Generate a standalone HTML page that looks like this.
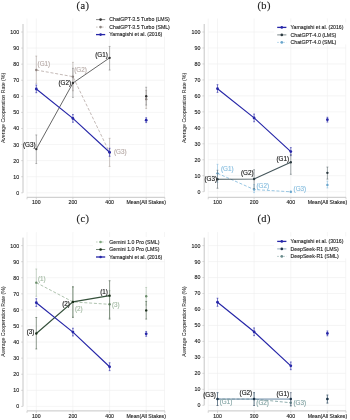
<!DOCTYPE html>
<html><head><meta charset="utf-8"><style>
html,body{margin:0;padding:0;background:#fff;width:350px;height:420px;overflow:hidden}
svg{display:block;font-family:"Liberation Sans", sans-serif;will-change:transform}
</style></head><body>
<svg width="350" height="420" viewBox="0 0 350 420">
<rect width="350" height="420" fill="#fff"/>
<line x1="27" y1="192.80" x2="164.5" y2="192.80" stroke="#eeeeee" stroke-width="0.6"/>
<line x1="27" y1="176.72" x2="164.5" y2="176.72" stroke="#eeeeee" stroke-width="0.6"/>
<line x1="27" y1="160.64" x2="164.5" y2="160.64" stroke="#eeeeee" stroke-width="0.6"/>
<line x1="27" y1="144.56" x2="164.5" y2="144.56" stroke="#eeeeee" stroke-width="0.6"/>
<line x1="27" y1="128.48" x2="164.5" y2="128.48" stroke="#eeeeee" stroke-width="0.6"/>
<line x1="27" y1="112.40" x2="164.5" y2="112.40" stroke="#eeeeee" stroke-width="0.6"/>
<line x1="27" y1="96.32" x2="164.5" y2="96.32" stroke="#eeeeee" stroke-width="0.6"/>
<line x1="27" y1="80.24" x2="164.5" y2="80.24" stroke="#eeeeee" stroke-width="0.6"/>
<line x1="27" y1="64.16" x2="164.5" y2="64.16" stroke="#eeeeee" stroke-width="0.6"/>
<line x1="27" y1="48.08" x2="164.5" y2="48.08" stroke="#eeeeee" stroke-width="0.6"/>
<line x1="27" y1="32.00" x2="164.5" y2="32.00" stroke="#eeeeee" stroke-width="0.6"/>
<line x1="27.00" y1="18.50" x2="27.00" y2="197.30" stroke="#eeeeee" stroke-width="0.6"/>
<line x1="36.30" y1="18.50" x2="36.30" y2="197.30" stroke="#eeeeee" stroke-width="0.6"/>
<line x1="72.90" y1="18.50" x2="72.90" y2="197.30" stroke="#eeeeee" stroke-width="0.6"/>
<line x1="109.60" y1="18.50" x2="109.60" y2="197.30" stroke="#eeeeee" stroke-width="0.6"/>
<line x1="146.20" y1="18.50" x2="146.20" y2="197.30" stroke="#eeeeee" stroke-width="0.6"/>
<line x1="164.50" y1="18.50" x2="164.50" y2="197.30" stroke="#eeeeee" stroke-width="0.6"/>
<line x1="23" y1="24" x2="23" y2="192.80" stroke="#c6c6c6" stroke-width="1.0"/>
<line x1="27" y1="197.3" x2="164.8" y2="197.3" stroke="#c6c6c6" stroke-width="1.0"/>
<line x1="21.2" y1="192.80" x2="23" y2="192.80" stroke="#c6c6c6" stroke-width="0.7"/>
<text x="19.2" y="194.75" text-anchor="end" font-size="5.3" fill="#222" stroke="#222" stroke-width="0.12">0</text>
<line x1="21.2" y1="176.72" x2="23" y2="176.72" stroke="#c6c6c6" stroke-width="0.7"/>
<text x="19.2" y="178.67" text-anchor="end" font-size="5.3" fill="#222" stroke="#222" stroke-width="0.12">10</text>
<line x1="21.2" y1="160.64" x2="23" y2="160.64" stroke="#c6c6c6" stroke-width="0.7"/>
<text x="19.2" y="162.59" text-anchor="end" font-size="5.3" fill="#222" stroke="#222" stroke-width="0.12">20</text>
<line x1="21.2" y1="144.56" x2="23" y2="144.56" stroke="#c6c6c6" stroke-width="0.7"/>
<text x="19.2" y="146.51" text-anchor="end" font-size="5.3" fill="#222" stroke="#222" stroke-width="0.12">30</text>
<line x1="21.2" y1="128.48" x2="23" y2="128.48" stroke="#c6c6c6" stroke-width="0.7"/>
<text x="19.2" y="130.43" text-anchor="end" font-size="5.3" fill="#222" stroke="#222" stroke-width="0.12">40</text>
<line x1="21.2" y1="112.40" x2="23" y2="112.40" stroke="#c6c6c6" stroke-width="0.7"/>
<text x="19.2" y="114.35" text-anchor="end" font-size="5.3" fill="#222" stroke="#222" stroke-width="0.12">50</text>
<line x1="21.2" y1="96.32" x2="23" y2="96.32" stroke="#c6c6c6" stroke-width="0.7"/>
<text x="19.2" y="98.27" text-anchor="end" font-size="5.3" fill="#222" stroke="#222" stroke-width="0.12">60</text>
<line x1="21.2" y1="80.24" x2="23" y2="80.24" stroke="#c6c6c6" stroke-width="0.7"/>
<text x="19.2" y="82.19" text-anchor="end" font-size="5.3" fill="#222" stroke="#222" stroke-width="0.12">70</text>
<line x1="21.2" y1="64.16" x2="23" y2="64.16" stroke="#c6c6c6" stroke-width="0.7"/>
<text x="19.2" y="66.11" text-anchor="end" font-size="5.3" fill="#222" stroke="#222" stroke-width="0.12">80</text>
<line x1="21.2" y1="48.08" x2="23" y2="48.08" stroke="#c6c6c6" stroke-width="0.7"/>
<text x="19.2" y="50.03" text-anchor="end" font-size="5.3" fill="#222" stroke="#222" stroke-width="0.12">90</text>
<line x1="21.2" y1="32.00" x2="23" y2="32.00" stroke="#c6c6c6" stroke-width="0.7"/>
<text x="19.2" y="33.95" text-anchor="end" font-size="5.3" fill="#222" stroke="#222" stroke-width="0.12">100</text>
<line x1="27.00" y1="197.3" x2="27.00" y2="199.3" stroke="#c6c6c6" stroke-width="0.7"/>
<line x1="36.30" y1="197.3" x2="36.30" y2="199.3" stroke="#c6c6c6" stroke-width="0.7"/>
<line x1="72.90" y1="197.3" x2="72.90" y2="199.3" stroke="#c6c6c6" stroke-width="0.7"/>
<line x1="109.60" y1="197.3" x2="109.60" y2="199.3" stroke="#c6c6c6" stroke-width="0.7"/>
<line x1="146.20" y1="197.3" x2="146.20" y2="199.3" stroke="#c6c6c6" stroke-width="0.7"/>
<line x1="164.80" y1="197.3" x2="164.80" y2="199.3" stroke="#c6c6c6" stroke-width="0.7"/>
<text x="36.30" y="204.1" text-anchor="middle" font-size="5.2" fill="#222" stroke="#222" stroke-width="0.12">100</text>
<text x="72.90" y="204.1" text-anchor="middle" font-size="5.2" fill="#222" stroke="#222" stroke-width="0.12">200</text>
<text x="109.60" y="204.1" text-anchor="middle" font-size="5.2" fill="#222" stroke="#222" stroke-width="0.12">400</text>
<text x="146.20" y="204.1" text-anchor="middle" font-size="5.2" fill="#222" stroke="#222" stroke-width="0.12">Mean(All Stakes)</text>
<text transform="translate(4.6,108.0) rotate(-90)" text-anchor="middle" font-size="5.15" fill="#262626" stroke="#262626" stroke-width="0.05">Average Cooperation Rate (%)</text>
<text x="83" y="8.75" text-anchor="middle" font-family='"Liberation Serif", serif' font-size="10.4" letter-spacing="0.5" fill="#222" stroke="#222" stroke-width="0.15">(a)</text>
<line x1="36.30" y1="83.39" x2="36.30" y2="56.09" stroke="#aca29e" stroke-width="0.6"/>
<line x1="35.40" y1="83.39" x2="37.20" y2="83.39" stroke="#aca29e" stroke-width="0.6"/>
<line x1="35.40" y1="56.09" x2="37.20" y2="56.09" stroke="#aca29e" stroke-width="0.6"/>
<line x1="72.90" y1="90.78" x2="72.90" y2="62.35" stroke="#aca29e" stroke-width="0.6"/>
<line x1="72.00" y1="90.78" x2="73.80" y2="90.78" stroke="#aca29e" stroke-width="0.6"/>
<line x1="72.00" y1="62.35" x2="73.80" y2="62.35" stroke="#aca29e" stroke-width="0.6"/>
<line x1="109.60" y1="166.42" x2="109.60" y2="138.32" stroke="#aca29e" stroke-width="0.6"/>
<line x1="108.70" y1="166.42" x2="110.50" y2="166.42" stroke="#aca29e" stroke-width="0.6"/>
<line x1="108.70" y1="138.32" x2="110.50" y2="138.32" stroke="#aca29e" stroke-width="0.6"/>
<line x1="146.20" y1="108.45" x2="146.20" y2="90.46" stroke="#aca29e" stroke-width="0.6"/>
<line x1="145.30" y1="108.45" x2="147.10" y2="108.45" stroke="#aca29e" stroke-width="0.6"/>
<line x1="145.30" y1="90.46" x2="147.10" y2="90.46" stroke="#aca29e" stroke-width="0.6"/>
<polyline points="36.30,70.06 72.90,76.65 109.60,152.61" fill="none" stroke="#b9adaa" stroke-width="0.85" stroke-dasharray="3,1.8"/>
<circle cx="36.30" cy="70.06" r="1.2" fill="#8c807c"/>
<circle cx="72.90" cy="76.65" r="1.2" fill="#8c807c"/>
<circle cx="109.60" cy="152.61" r="1.2" fill="#8c807c"/>
<circle cx="146.20" cy="99.13" r="1.2" fill="#8c807c"/>
<line x1="36.30" y1="163.53" x2="36.30" y2="134.94" stroke="#858585" stroke-width="0.6"/>
<line x1="35.40" y1="163.53" x2="37.20" y2="163.53" stroke="#858585" stroke-width="0.6"/>
<line x1="35.40" y1="134.94" x2="37.20" y2="134.94" stroke="#858585" stroke-width="0.6"/>
<line x1="72.90" y1="97.36" x2="72.90" y2="68.30" stroke="#858585" stroke-width="0.6"/>
<line x1="72.00" y1="97.36" x2="73.80" y2="97.36" stroke="#858585" stroke-width="0.6"/>
<line x1="72.00" y1="68.30" x2="73.80" y2="68.30" stroke="#858585" stroke-width="0.6"/>
<line x1="109.60" y1="70.06" x2="109.60" y2="46.45" stroke="#858585" stroke-width="0.6"/>
<line x1="108.70" y1="70.06" x2="110.50" y2="70.06" stroke="#858585" stroke-width="0.6"/>
<line x1="108.70" y1="46.45" x2="110.50" y2="46.45" stroke="#858585" stroke-width="0.6"/>
<line x1="146.20" y1="105.07" x2="146.20" y2="87.25" stroke="#858585" stroke-width="0.6"/>
<line x1="145.30" y1="105.07" x2="147.10" y2="105.07" stroke="#858585" stroke-width="0.6"/>
<line x1="145.30" y1="87.25" x2="147.10" y2="87.25" stroke="#858585" stroke-width="0.6"/>
<polyline points="36.30,149.08 72.90,83.07 109.60,57.86" fill="none" stroke="#555555" stroke-width="0.9"/>
<circle cx="36.30" cy="149.08" r="1.2" fill="#333"/>
<circle cx="72.90" cy="83.07" r="1.2" fill="#333"/>
<circle cx="109.60" cy="57.86" r="1.2" fill="#333"/>
<circle cx="146.20" cy="96.24" r="1.2" fill="#333"/>
<line x1="36.30" y1="92.71" x2="36.30" y2="85.00" stroke="#2626a8" stroke-width="0.6"/>
<line x1="35.40" y1="92.71" x2="37.20" y2="92.71" stroke="#2626a8" stroke-width="0.6"/>
<line x1="35.40" y1="85.00" x2="37.20" y2="85.00" stroke="#2626a8" stroke-width="0.6"/>
<line x1="72.90" y1="122.26" x2="72.90" y2="114.55" stroke="#2626a8" stroke-width="0.6"/>
<line x1="72.00" y1="122.26" x2="73.80" y2="122.26" stroke="#2626a8" stroke-width="0.6"/>
<line x1="72.00" y1="114.55" x2="73.80" y2="114.55" stroke="#2626a8" stroke-width="0.6"/>
<line x1="109.60" y1="156.30" x2="109.60" y2="148.27" stroke="#2626a8" stroke-width="0.6"/>
<line x1="108.70" y1="156.30" x2="110.50" y2="156.30" stroke="#2626a8" stroke-width="0.6"/>
<line x1="108.70" y1="148.27" x2="110.50" y2="148.27" stroke="#2626a8" stroke-width="0.6"/>
<line x1="146.20" y1="122.58" x2="146.20" y2="117.76" stroke="#2626a8" stroke-width="0.6"/>
<line x1="145.30" y1="122.58" x2="147.10" y2="122.58" stroke="#2626a8" stroke-width="0.6"/>
<line x1="145.30" y1="117.76" x2="147.10" y2="117.76" stroke="#2626a8" stroke-width="0.6"/>
<polyline points="36.30,89.01 72.90,118.40 109.60,152.29" fill="none" stroke="#2626a8" stroke-width="1.15"/>
<circle cx="36.30" cy="89.01" r="1.4" fill="#2626a8"/>
<circle cx="72.90" cy="118.40" r="1.4" fill="#2626a8"/>
<circle cx="109.60" cy="152.29" r="1.4" fill="#2626a8"/>
<circle cx="146.20" cy="120.17" r="1.4" fill="#2626a8"/>
<text x="37.60" y="66.25" text-anchor="start" font-size="6.3" fill="#b9adaa" stroke="#b9adaa" stroke-width="0.15">(G1)</text>
<text x="71.10" y="84.65" text-anchor="end" font-size="6.3" fill="#222" stroke="#222" stroke-width="0.15">(G2)</text>
<text x="74.20" y="72.25" text-anchor="start" font-size="6.3" fill="#b9adaa" stroke="#b9adaa" stroke-width="0.15">(G2)</text>
<text x="107.80" y="57.25" text-anchor="end" font-size="6.3" fill="#222" stroke="#222" stroke-width="0.15">(G1)</text>
<text x="114.00" y="153.55" text-anchor="start" font-size="6.3" fill="#b9adaa" stroke="#b9adaa" stroke-width="0.15">(G3)</text>
<text x="35.50" y="146.75" text-anchor="end" font-size="6.3" fill="#222" stroke="#222" stroke-width="0.15">(G3)</text>
<rect x="93.00" y="14.60" width="78" height="22" fill="#fff"/>
<line x1="96.00" y1="19.60" x2="105.20" y2="19.60" stroke="#555555" stroke-width="0.7"/>
<circle cx="100.60" cy="19.60" r="1.3" fill="#333"/>
<text x="109.30" y="21.35" font-size="5.2" fill="#222" stroke="#222" stroke-width="0.12">ChatGPT-3.5 Turbo (LMS)</text>
<line x1="96.00" y1="27.10" x2="105.20" y2="27.10" stroke="#b0a6a2" stroke-width="0.7" stroke-dasharray="1.6,1.4"/>
<circle cx="100.60" cy="27.10" r="1.3" fill="#8c8480"/>
<text x="109.30" y="28.85" font-size="5.2" fill="#222" stroke="#222" stroke-width="0.12">ChatGPT-3.5 Turbo (SML)</text>
<line x1="96.00" y1="34.60" x2="105.20" y2="34.60" stroke="#2626a8" stroke-width="1.3"/>
<circle cx="100.60" cy="34.60" r="1.3" fill="#2626a8"/>
<text x="109.30" y="36.35" font-size="5.2" fill="#222" stroke="#222" stroke-width="0.12">Yamagishi et al. (2016)</text>
<line x1="208.2" y1="191.70" x2="345.7" y2="191.70" stroke="#eeeeee" stroke-width="0.6"/>
<line x1="208.2" y1="175.73" x2="345.7" y2="175.73" stroke="#eeeeee" stroke-width="0.6"/>
<line x1="208.2" y1="159.76" x2="345.7" y2="159.76" stroke="#eeeeee" stroke-width="0.6"/>
<line x1="208.2" y1="143.79" x2="345.7" y2="143.79" stroke="#eeeeee" stroke-width="0.6"/>
<line x1="208.2" y1="127.82" x2="345.7" y2="127.82" stroke="#eeeeee" stroke-width="0.6"/>
<line x1="208.2" y1="111.85" x2="345.7" y2="111.85" stroke="#eeeeee" stroke-width="0.6"/>
<line x1="208.2" y1="95.88" x2="345.7" y2="95.88" stroke="#eeeeee" stroke-width="0.6"/>
<line x1="208.2" y1="79.91" x2="345.7" y2="79.91" stroke="#eeeeee" stroke-width="0.6"/>
<line x1="208.2" y1="63.94" x2="345.7" y2="63.94" stroke="#eeeeee" stroke-width="0.6"/>
<line x1="208.2" y1="47.97" x2="345.7" y2="47.97" stroke="#eeeeee" stroke-width="0.6"/>
<line x1="208.2" y1="32.00" x2="345.7" y2="32.00" stroke="#eeeeee" stroke-width="0.6"/>
<line x1="208.20" y1="18.50" x2="208.20" y2="197.30" stroke="#eeeeee" stroke-width="0.6"/>
<line x1="217.50" y1="18.50" x2="217.50" y2="197.30" stroke="#eeeeee" stroke-width="0.6"/>
<line x1="254.10" y1="18.50" x2="254.10" y2="197.30" stroke="#eeeeee" stroke-width="0.6"/>
<line x1="290.80" y1="18.50" x2="290.80" y2="197.30" stroke="#eeeeee" stroke-width="0.6"/>
<line x1="327.40" y1="18.50" x2="327.40" y2="197.30" stroke="#eeeeee" stroke-width="0.6"/>
<line x1="345.70" y1="18.50" x2="345.70" y2="197.30" stroke="#eeeeee" stroke-width="0.6"/>
<line x1="204.2" y1="24" x2="204.2" y2="191.70" stroke="#c6c6c6" stroke-width="1.0"/>
<line x1="208.2" y1="197.3" x2="346.0" y2="197.3" stroke="#c6c6c6" stroke-width="1.0"/>
<line x1="202.39999999999998" y1="191.70" x2="204.2" y2="191.70" stroke="#c6c6c6" stroke-width="0.7"/>
<text x="200.39999999999998" y="193.65" text-anchor="end" font-size="5.3" fill="#222" stroke="#222" stroke-width="0.12">0</text>
<line x1="202.39999999999998" y1="175.73" x2="204.2" y2="175.73" stroke="#c6c6c6" stroke-width="0.7"/>
<text x="200.39999999999998" y="177.68" text-anchor="end" font-size="5.3" fill="#222" stroke="#222" stroke-width="0.12">10</text>
<line x1="202.39999999999998" y1="159.76" x2="204.2" y2="159.76" stroke="#c6c6c6" stroke-width="0.7"/>
<text x="200.39999999999998" y="161.71" text-anchor="end" font-size="5.3" fill="#222" stroke="#222" stroke-width="0.12">20</text>
<line x1="202.39999999999998" y1="143.79" x2="204.2" y2="143.79" stroke="#c6c6c6" stroke-width="0.7"/>
<text x="200.39999999999998" y="145.74" text-anchor="end" font-size="5.3" fill="#222" stroke="#222" stroke-width="0.12">30</text>
<line x1="202.39999999999998" y1="127.82" x2="204.2" y2="127.82" stroke="#c6c6c6" stroke-width="0.7"/>
<text x="200.39999999999998" y="129.77" text-anchor="end" font-size="5.3" fill="#222" stroke="#222" stroke-width="0.12">40</text>
<line x1="202.39999999999998" y1="111.85" x2="204.2" y2="111.85" stroke="#c6c6c6" stroke-width="0.7"/>
<text x="200.39999999999998" y="113.80" text-anchor="end" font-size="5.3" fill="#222" stroke="#222" stroke-width="0.12">50</text>
<line x1="202.39999999999998" y1="95.88" x2="204.2" y2="95.88" stroke="#c6c6c6" stroke-width="0.7"/>
<text x="200.39999999999998" y="97.83" text-anchor="end" font-size="5.3" fill="#222" stroke="#222" stroke-width="0.12">60</text>
<line x1="202.39999999999998" y1="79.91" x2="204.2" y2="79.91" stroke="#c6c6c6" stroke-width="0.7"/>
<text x="200.39999999999998" y="81.86" text-anchor="end" font-size="5.3" fill="#222" stroke="#222" stroke-width="0.12">70</text>
<line x1="202.39999999999998" y1="63.94" x2="204.2" y2="63.94" stroke="#c6c6c6" stroke-width="0.7"/>
<text x="200.39999999999998" y="65.89" text-anchor="end" font-size="5.3" fill="#222" stroke="#222" stroke-width="0.12">80</text>
<line x1="202.39999999999998" y1="47.97" x2="204.2" y2="47.97" stroke="#c6c6c6" stroke-width="0.7"/>
<text x="200.39999999999998" y="49.92" text-anchor="end" font-size="5.3" fill="#222" stroke="#222" stroke-width="0.12">90</text>
<line x1="202.39999999999998" y1="32.00" x2="204.2" y2="32.00" stroke="#c6c6c6" stroke-width="0.7"/>
<text x="200.39999999999998" y="33.95" text-anchor="end" font-size="5.3" fill="#222" stroke="#222" stroke-width="0.12">100</text>
<line x1="208.20" y1="197.3" x2="208.20" y2="199.3" stroke="#c6c6c6" stroke-width="0.7"/>
<line x1="217.50" y1="197.3" x2="217.50" y2="199.3" stroke="#c6c6c6" stroke-width="0.7"/>
<line x1="254.10" y1="197.3" x2="254.10" y2="199.3" stroke="#c6c6c6" stroke-width="0.7"/>
<line x1="290.80" y1="197.3" x2="290.80" y2="199.3" stroke="#c6c6c6" stroke-width="0.7"/>
<line x1="327.40" y1="197.3" x2="327.40" y2="199.3" stroke="#c6c6c6" stroke-width="0.7"/>
<line x1="346.00" y1="197.3" x2="346.00" y2="199.3" stroke="#c6c6c6" stroke-width="0.7"/>
<text x="217.50" y="204.1" text-anchor="middle" font-size="5.2" fill="#222" stroke="#222" stroke-width="0.12">100</text>
<text x="254.10" y="204.1" text-anchor="middle" font-size="5.2" fill="#222" stroke="#222" stroke-width="0.12">200</text>
<text x="290.80" y="204.1" text-anchor="middle" font-size="5.2" fill="#222" stroke="#222" stroke-width="0.12">400</text>
<text x="327.40" y="204.1" text-anchor="middle" font-size="5.2" fill="#222" stroke="#222" stroke-width="0.12">Mean(All Stakes)</text>
<text transform="translate(185.79999999999998,108.0) rotate(-90)" text-anchor="middle" font-size="5.15" fill="#262626" stroke="#262626" stroke-width="0.05">Average Cooperation Rate (%)</text>
<text x="264.2" y="8.75" text-anchor="middle" font-family='"Liberation Serif", serif' font-size="10.4" letter-spacing="0.5" fill="#222" stroke="#222" stroke-width="0.15">(b)</text>
<line x1="217.50" y1="92.37" x2="217.50" y2="84.70" stroke="#2626a8" stroke-width="0.6"/>
<line x1="216.60" y1="92.37" x2="218.40" y2="92.37" stroke="#2626a8" stroke-width="0.6"/>
<line x1="216.60" y1="84.70" x2="218.40" y2="84.70" stroke="#2626a8" stroke-width="0.6"/>
<line x1="254.10" y1="121.75" x2="254.10" y2="114.09" stroke="#2626a8" stroke-width="0.6"/>
<line x1="253.20" y1="121.75" x2="255.00" y2="121.75" stroke="#2626a8" stroke-width="0.6"/>
<line x1="253.20" y1="114.09" x2="255.00" y2="114.09" stroke="#2626a8" stroke-width="0.6"/>
<line x1="290.80" y1="155.61" x2="290.80" y2="147.62" stroke="#2626a8" stroke-width="0.6"/>
<line x1="289.90" y1="155.61" x2="291.70" y2="155.61" stroke="#2626a8" stroke-width="0.6"/>
<line x1="289.90" y1="147.62" x2="291.70" y2="147.62" stroke="#2626a8" stroke-width="0.6"/>
<line x1="327.40" y1="122.07" x2="327.40" y2="117.28" stroke="#2626a8" stroke-width="0.6"/>
<line x1="326.50" y1="122.07" x2="328.30" y2="122.07" stroke="#2626a8" stroke-width="0.6"/>
<line x1="326.50" y1="117.28" x2="328.30" y2="117.28" stroke="#2626a8" stroke-width="0.6"/>
<polyline points="217.50,88.69 254.10,117.92 290.80,151.62" fill="none" stroke="#2626a8" stroke-width="1.15"/>
<circle cx="217.50" cy="88.69" r="1.4" fill="#2626a8"/>
<circle cx="254.10" cy="117.92" r="1.4" fill="#2626a8"/>
<circle cx="290.80" cy="151.62" r="1.4" fill="#2626a8"/>
<circle cx="327.40" cy="119.68" r="1.4" fill="#2626a8"/>
<line x1="217.50" y1="182.32" x2="217.50" y2="164.33" stroke="#8cc0e0" stroke-width="0.6"/>
<line x1="216.60" y1="182.32" x2="218.40" y2="182.32" stroke="#8cc0e0" stroke-width="0.6"/>
<line x1="216.60" y1="164.33" x2="218.40" y2="164.33" stroke="#8cc0e0" stroke-width="0.6"/>
<line x1="254.10" y1="192.60" x2="254.10" y2="184.57" stroke="#8cc0e0" stroke-width="0.6"/>
<line x1="253.20" y1="192.60" x2="255.00" y2="192.60" stroke="#8cc0e0" stroke-width="0.6"/>
<line x1="253.20" y1="184.57" x2="255.00" y2="184.57" stroke="#8cc0e0" stroke-width="0.6"/>
<line x1="290.80" y1="192.60" x2="290.80" y2="191.80" stroke="#8cc0e0" stroke-width="0.6"/>
<line x1="289.90" y1="192.60" x2="291.70" y2="192.60" stroke="#8cc0e0" stroke-width="0.6"/>
<line x1="289.90" y1="191.80" x2="291.70" y2="191.80" stroke="#8cc0e0" stroke-width="0.6"/>
<line x1="327.40" y1="187.94" x2="327.40" y2="181.20" stroke="#8cc0e0" stroke-width="0.6"/>
<line x1="326.50" y1="187.94" x2="328.30" y2="187.94" stroke="#8cc0e0" stroke-width="0.6"/>
<line x1="326.50" y1="181.20" x2="328.30" y2="181.20" stroke="#8cc0e0" stroke-width="0.6"/>
<polyline points="217.50,173.33 254.10,189.55 290.80,191.80" fill="none" stroke="#8cc0e0" stroke-width="0.9" stroke-dasharray="3,1.8"/>
<circle cx="217.50" cy="173.33" r="1.2" fill="#6aa6cc"/>
<circle cx="254.10" cy="189.55" r="1.2" fill="#6aa6cc"/>
<circle cx="290.80" cy="191.80" r="1.2" fill="#6aa6cc"/>
<circle cx="327.40" cy="184.89" r="1.2" fill="#6aa6cc"/>
<line x1="217.50" y1="188.26" x2="217.50" y2="170.28" stroke="#5f6c70" stroke-width="0.6"/>
<line x1="216.60" y1="188.26" x2="218.40" y2="188.26" stroke="#5f6c70" stroke-width="0.6"/>
<line x1="216.60" y1="170.28" x2="218.40" y2="170.28" stroke="#5f6c70" stroke-width="0.6"/>
<line x1="254.10" y1="188.58" x2="254.10" y2="169.79" stroke="#5f6c70" stroke-width="0.6"/>
<line x1="253.20" y1="188.58" x2="255.00" y2="188.58" stroke="#5f6c70" stroke-width="0.6"/>
<line x1="253.20" y1="169.79" x2="255.00" y2="169.79" stroke="#5f6c70" stroke-width="0.6"/>
<line x1="290.80" y1="174.29" x2="290.80" y2="154.38" stroke="#5f6c70" stroke-width="0.6"/>
<line x1="289.90" y1="174.29" x2="291.70" y2="174.29" stroke="#5f6c70" stroke-width="0.6"/>
<line x1="289.90" y1="154.38" x2="291.70" y2="154.38" stroke="#5f6c70" stroke-width="0.6"/>
<line x1="327.40" y1="179.11" x2="327.40" y2="167.06" stroke="#5f6c70" stroke-width="0.6"/>
<line x1="326.50" y1="179.11" x2="328.30" y2="179.11" stroke="#5f6c70" stroke-width="0.6"/>
<line x1="326.50" y1="167.06" x2="328.30" y2="167.06" stroke="#5f6c70" stroke-width="0.6"/>
<polyline points="217.50,179.27 254.10,178.95 290.80,162.25" fill="none" stroke="#435459" stroke-width="1.15"/>
<circle cx="217.50" cy="179.27" r="1.2" fill="#2c3a40"/>
<circle cx="254.10" cy="178.95" r="1.2" fill="#2c3a40"/>
<circle cx="290.80" cy="162.25" r="1.2" fill="#2c3a40"/>
<circle cx="327.40" cy="172.85" r="1.2" fill="#2c3a40"/>
<text x="221.00" y="171.45" text-anchor="start" font-size="6.3" fill="#8cc0e0" stroke="#8cc0e0" stroke-width="0.15">(G1)</text>
<text x="217.00" y="180.85" text-anchor="end" font-size="6.3" fill="#222" stroke="#222" stroke-width="0.15">(G3)</text>
<text x="253.60" y="175.45" text-anchor="end" font-size="6.3" fill="#222" stroke="#222" stroke-width="0.15">(G2)</text>
<text x="256.50" y="187.55" text-anchor="start" font-size="6.3" fill="#8cc0e0" stroke="#8cc0e0" stroke-width="0.15">(G2)</text>
<text x="289.10" y="160.95" text-anchor="end" font-size="6.3" fill="#222" stroke="#222" stroke-width="0.15">(G1)</text>
<text x="293.60" y="191.45" text-anchor="start" font-size="6.3" fill="#8cc0e0" stroke="#8cc0e0" stroke-width="0.15">(G3)</text>
<rect x="274.20" y="22.40" width="78" height="22" fill="#fff"/>
<line x1="277.20" y1="27.40" x2="286.40" y2="27.40" stroke="#2626a8" stroke-width="1.3"/>
<circle cx="281.80" cy="27.40" r="1.3" fill="#2626a8"/>
<text x="290.50" y="29.15" font-size="5.2" fill="#222" stroke="#222" stroke-width="0.12">Yamagishi et al. (2016)</text>
<line x1="277.20" y1="34.90" x2="286.40" y2="34.90" stroke="#435459" stroke-width="0.7"/>
<circle cx="281.80" cy="34.90" r="1.3" fill="#2c3a40"/>
<text x="290.50" y="36.65" font-size="5.2" fill="#222" stroke="#222" stroke-width="0.12">ChatGPT-4.0 (LMS)</text>
<line x1="277.20" y1="42.40" x2="286.40" y2="42.40" stroke="#8cc0e0" stroke-width="0.7" stroke-dasharray="1.6,1.4"/>
<circle cx="281.80" cy="42.40" r="1.3" fill="#6aa6cc"/>
<text x="290.50" y="44.15" font-size="5.2" fill="#222" stroke="#222" stroke-width="0.12">ChatGPT-4.0 (SML)</text>
<line x1="27" y1="406.40" x2="164.5" y2="406.40" stroke="#eeeeee" stroke-width="0.6"/>
<line x1="27" y1="390.32" x2="164.5" y2="390.32" stroke="#eeeeee" stroke-width="0.6"/>
<line x1="27" y1="374.24" x2="164.5" y2="374.24" stroke="#eeeeee" stroke-width="0.6"/>
<line x1="27" y1="358.16" x2="164.5" y2="358.16" stroke="#eeeeee" stroke-width="0.6"/>
<line x1="27" y1="342.08" x2="164.5" y2="342.08" stroke="#eeeeee" stroke-width="0.6"/>
<line x1="27" y1="326.00" x2="164.5" y2="326.00" stroke="#eeeeee" stroke-width="0.6"/>
<line x1="27" y1="309.92" x2="164.5" y2="309.92" stroke="#eeeeee" stroke-width="0.6"/>
<line x1="27" y1="293.84" x2="164.5" y2="293.84" stroke="#eeeeee" stroke-width="0.6"/>
<line x1="27" y1="277.76" x2="164.5" y2="277.76" stroke="#eeeeee" stroke-width="0.6"/>
<line x1="27" y1="261.68" x2="164.5" y2="261.68" stroke="#eeeeee" stroke-width="0.6"/>
<line x1="27" y1="245.60" x2="164.5" y2="245.60" stroke="#eeeeee" stroke-width="0.6"/>
<line x1="27.00" y1="232.10" x2="27.00" y2="410.90" stroke="#eeeeee" stroke-width="0.6"/>
<line x1="36.30" y1="232.10" x2="36.30" y2="410.90" stroke="#eeeeee" stroke-width="0.6"/>
<line x1="72.90" y1="232.10" x2="72.90" y2="410.90" stroke="#eeeeee" stroke-width="0.6"/>
<line x1="109.60" y1="232.10" x2="109.60" y2="410.90" stroke="#eeeeee" stroke-width="0.6"/>
<line x1="146.20" y1="232.10" x2="146.20" y2="410.90" stroke="#eeeeee" stroke-width="0.6"/>
<line x1="164.50" y1="232.10" x2="164.50" y2="410.90" stroke="#eeeeee" stroke-width="0.6"/>
<line x1="23" y1="237.6" x2="23" y2="406.40" stroke="#c6c6c6" stroke-width="1.0"/>
<line x1="27" y1="410.9" x2="164.8" y2="410.9" stroke="#c6c6c6" stroke-width="1.0"/>
<line x1="21.2" y1="406.40" x2="23" y2="406.40" stroke="#c6c6c6" stroke-width="0.7"/>
<text x="19.2" y="408.35" text-anchor="end" font-size="5.3" fill="#222" stroke="#222" stroke-width="0.12">0</text>
<line x1="21.2" y1="390.32" x2="23" y2="390.32" stroke="#c6c6c6" stroke-width="0.7"/>
<text x="19.2" y="392.27" text-anchor="end" font-size="5.3" fill="#222" stroke="#222" stroke-width="0.12">10</text>
<line x1="21.2" y1="374.24" x2="23" y2="374.24" stroke="#c6c6c6" stroke-width="0.7"/>
<text x="19.2" y="376.19" text-anchor="end" font-size="5.3" fill="#222" stroke="#222" stroke-width="0.12">20</text>
<line x1="21.2" y1="358.16" x2="23" y2="358.16" stroke="#c6c6c6" stroke-width="0.7"/>
<text x="19.2" y="360.11" text-anchor="end" font-size="5.3" fill="#222" stroke="#222" stroke-width="0.12">30</text>
<line x1="21.2" y1="342.08" x2="23" y2="342.08" stroke="#c6c6c6" stroke-width="0.7"/>
<text x="19.2" y="344.03" text-anchor="end" font-size="5.3" fill="#222" stroke="#222" stroke-width="0.12">40</text>
<line x1="21.2" y1="326.00" x2="23" y2="326.00" stroke="#c6c6c6" stroke-width="0.7"/>
<text x="19.2" y="327.95" text-anchor="end" font-size="5.3" fill="#222" stroke="#222" stroke-width="0.12">50</text>
<line x1="21.2" y1="309.92" x2="23" y2="309.92" stroke="#c6c6c6" stroke-width="0.7"/>
<text x="19.2" y="311.87" text-anchor="end" font-size="5.3" fill="#222" stroke="#222" stroke-width="0.12">60</text>
<line x1="21.2" y1="293.84" x2="23" y2="293.84" stroke="#c6c6c6" stroke-width="0.7"/>
<text x="19.2" y="295.79" text-anchor="end" font-size="5.3" fill="#222" stroke="#222" stroke-width="0.12">70</text>
<line x1="21.2" y1="277.76" x2="23" y2="277.76" stroke="#c6c6c6" stroke-width="0.7"/>
<text x="19.2" y="279.71" text-anchor="end" font-size="5.3" fill="#222" stroke="#222" stroke-width="0.12">80</text>
<line x1="21.2" y1="261.68" x2="23" y2="261.68" stroke="#c6c6c6" stroke-width="0.7"/>
<text x="19.2" y="263.63" text-anchor="end" font-size="5.3" fill="#222" stroke="#222" stroke-width="0.12">90</text>
<line x1="21.2" y1="245.60" x2="23" y2="245.60" stroke="#c6c6c6" stroke-width="0.7"/>
<text x="19.2" y="247.55" text-anchor="end" font-size="5.3" fill="#222" stroke="#222" stroke-width="0.12">100</text>
<line x1="27.00" y1="410.9" x2="27.00" y2="412.9" stroke="#c6c6c6" stroke-width="0.7"/>
<line x1="36.30" y1="410.9" x2="36.30" y2="412.9" stroke="#c6c6c6" stroke-width="0.7"/>
<line x1="72.90" y1="410.9" x2="72.90" y2="412.9" stroke="#c6c6c6" stroke-width="0.7"/>
<line x1="109.60" y1="410.9" x2="109.60" y2="412.9" stroke="#c6c6c6" stroke-width="0.7"/>
<line x1="146.20" y1="410.9" x2="146.20" y2="412.9" stroke="#c6c6c6" stroke-width="0.7"/>
<line x1="164.80" y1="410.9" x2="164.80" y2="412.9" stroke="#c6c6c6" stroke-width="0.7"/>
<text x="36.30" y="417.7" text-anchor="middle" font-size="5.2" fill="#222" stroke="#222" stroke-width="0.12">100</text>
<text x="72.90" y="417.7" text-anchor="middle" font-size="5.2" fill="#222" stroke="#222" stroke-width="0.12">200</text>
<text x="109.60" y="417.7" text-anchor="middle" font-size="5.2" fill="#222" stroke="#222" stroke-width="0.12">400</text>
<text x="146.20" y="417.7" text-anchor="middle" font-size="5.2" fill="#222" stroke="#222" stroke-width="0.12">Mean(All Stakes)</text>
<text transform="translate(4.6,321.6) rotate(-90)" text-anchor="middle" font-size="5.15" fill="#262626" stroke="#262626" stroke-width="0.05">Average Cooperation Rate (%)</text>
<text x="83" y="222.35" text-anchor="middle" font-family='"Liberation Serif", serif' font-size="10.4" letter-spacing="0.5" fill="#222" stroke="#222" stroke-width="0.15">(c)</text>
<line x1="36.30" y1="296.29" x2="36.30" y2="268.99" stroke="#a6bca6" stroke-width="0.6"/>
<line x1="35.40" y1="296.29" x2="37.20" y2="296.29" stroke="#a6bca6" stroke-width="0.6"/>
<line x1="35.40" y1="268.99" x2="37.20" y2="268.99" stroke="#a6bca6" stroke-width="0.6"/>
<line x1="72.90" y1="316.36" x2="72.90" y2="287.46" stroke="#a6bca6" stroke-width="0.6"/>
<line x1="72.00" y1="316.36" x2="73.80" y2="316.36" stroke="#a6bca6" stroke-width="0.6"/>
<line x1="72.00" y1="287.46" x2="73.80" y2="287.46" stroke="#a6bca6" stroke-width="0.6"/>
<line x1="109.60" y1="317.97" x2="109.60" y2="290.67" stroke="#a6bca6" stroke-width="0.6"/>
<line x1="108.70" y1="317.97" x2="110.50" y2="317.97" stroke="#a6bca6" stroke-width="0.6"/>
<line x1="108.70" y1="290.67" x2="110.50" y2="290.67" stroke="#a6bca6" stroke-width="0.6"/>
<line x1="146.20" y1="305.12" x2="146.20" y2="287.46" stroke="#a6bca6" stroke-width="0.6"/>
<line x1="145.30" y1="305.12" x2="147.10" y2="305.12" stroke="#a6bca6" stroke-width="0.6"/>
<line x1="145.30" y1="287.46" x2="147.10" y2="287.46" stroke="#a6bca6" stroke-width="0.6"/>
<polyline points="36.30,282.64 72.90,301.91 109.60,304.32" fill="none" stroke="#a6bca6" stroke-width="0.9" stroke-dasharray="3,1.8"/>
<circle cx="36.30" cy="282.64" r="1.2" fill="#6a8c6a"/>
<circle cx="72.90" cy="301.91" r="1.2" fill="#6a8c6a"/>
<circle cx="109.60" cy="304.32" r="1.2" fill="#6a8c6a"/>
<circle cx="146.20" cy="296.29" r="1.2" fill="#6a8c6a"/>
<line x1="36.30" y1="348.97" x2="36.30" y2="317.49" stroke="#4a5e4a" stroke-width="0.6"/>
<line x1="35.40" y1="348.97" x2="37.20" y2="348.97" stroke="#4a5e4a" stroke-width="0.6"/>
<line x1="35.40" y1="317.49" x2="37.20" y2="317.49" stroke="#4a5e4a" stroke-width="0.6"/>
<line x1="72.90" y1="317.49" x2="72.90" y2="286.65" stroke="#4a5e4a" stroke-width="0.6"/>
<line x1="72.00" y1="317.49" x2="73.80" y2="317.49" stroke="#4a5e4a" stroke-width="0.6"/>
<line x1="72.00" y1="286.65" x2="73.80" y2="286.65" stroke="#4a5e4a" stroke-width="0.6"/>
<line x1="109.60" y1="319.09" x2="109.60" y2="280.71" stroke="#4a5e4a" stroke-width="0.6"/>
<line x1="108.70" y1="319.09" x2="110.50" y2="319.09" stroke="#4a5e4a" stroke-width="0.6"/>
<line x1="108.70" y1="280.71" x2="110.50" y2="280.71" stroke="#4a5e4a" stroke-width="0.6"/>
<line x1="146.20" y1="319.09" x2="146.20" y2="301.43" stroke="#4a5e4a" stroke-width="0.6"/>
<line x1="145.30" y1="319.09" x2="147.10" y2="319.09" stroke="#4a5e4a" stroke-width="0.6"/>
<line x1="145.30" y1="301.43" x2="147.10" y2="301.43" stroke="#4a5e4a" stroke-width="0.6"/>
<polyline points="36.30,333.55 72.90,301.91 109.60,295.65" fill="none" stroke="#34503a" stroke-width="1.15"/>
<circle cx="36.30" cy="333.55" r="1.2" fill="#1a2e1a"/>
<circle cx="72.90" cy="301.91" r="1.2" fill="#1a2e1a"/>
<circle cx="109.60" cy="295.65" r="1.2" fill="#1a2e1a"/>
<circle cx="146.20" cy="310.42" r="1.2" fill="#1a2e1a"/>
<line x1="36.30" y1="306.41" x2="36.30" y2="298.70" stroke="#2626a8" stroke-width="0.6"/>
<line x1="35.40" y1="306.41" x2="37.20" y2="306.41" stroke="#2626a8" stroke-width="0.6"/>
<line x1="35.40" y1="298.70" x2="37.20" y2="298.70" stroke="#2626a8" stroke-width="0.6"/>
<line x1="72.90" y1="335.96" x2="72.90" y2="328.25" stroke="#2626a8" stroke-width="0.6"/>
<line x1="72.00" y1="335.96" x2="73.80" y2="335.96" stroke="#2626a8" stroke-width="0.6"/>
<line x1="72.00" y1="328.25" x2="73.80" y2="328.25" stroke="#2626a8" stroke-width="0.6"/>
<line x1="109.60" y1="370.65" x2="109.60" y2="362.78" stroke="#2626a8" stroke-width="0.6"/>
<line x1="108.70" y1="370.65" x2="110.50" y2="370.65" stroke="#2626a8" stroke-width="0.6"/>
<line x1="108.70" y1="362.78" x2="110.50" y2="362.78" stroke="#2626a8" stroke-width="0.6"/>
<line x1="146.20" y1="336.28" x2="146.20" y2="331.46" stroke="#2626a8" stroke-width="0.6"/>
<line x1="145.30" y1="336.28" x2="147.10" y2="336.28" stroke="#2626a8" stroke-width="0.6"/>
<line x1="145.30" y1="331.46" x2="147.10" y2="331.46" stroke="#2626a8" stroke-width="0.6"/>
<polyline points="36.30,302.71 72.90,332.10 109.60,366.79" fill="none" stroke="#2626a8" stroke-width="1.15"/>
<circle cx="36.30" cy="302.71" r="1.4" fill="#2626a8"/>
<circle cx="72.90" cy="332.10" r="1.4" fill="#2626a8"/>
<circle cx="109.60" cy="366.79" r="1.4" fill="#2626a8"/>
<circle cx="146.20" cy="333.87" r="1.4" fill="#2626a8"/>
<text x="37.90" y="281.15" text-anchor="start" font-size="6.3" fill="#a6bca6" stroke="#a6bca6" stroke-width="0.15">(1)</text>
<text x="34.40" y="334.25" text-anchor="end" font-size="6.3" fill="#222" stroke="#222" stroke-width="0.15">(3)</text>
<text x="69.90" y="305.85" text-anchor="end" font-size="6.3" fill="#222" stroke="#222" stroke-width="0.15">(2)</text>
<text x="74.90" y="310.95" text-anchor="start" font-size="6.3" fill="#a6bca6" stroke="#a6bca6" stroke-width="0.15">(2)</text>
<text x="107.90" y="294.25" text-anchor="end" font-size="6.3" fill="#222" stroke="#222" stroke-width="0.15">(1)</text>
<text x="112.00" y="306.75" text-anchor="start" font-size="6.3" fill="#a6bca6" stroke="#a6bca6" stroke-width="0.15">(3)</text>
<rect x="93.00" y="237.00" width="78" height="22" fill="#fff"/>
<line x1="96.00" y1="242.00" x2="105.20" y2="242.00" stroke="#a6bca6" stroke-width="0.7" stroke-dasharray="1.6,1.4"/>
<circle cx="100.60" cy="242.00" r="1.3" fill="#7fa87f"/>
<text x="109.30" y="243.75" font-size="5.2" fill="#222" stroke="#222" stroke-width="0.12">Gemini 1.0 Pro (SML)</text>
<line x1="96.00" y1="249.50" x2="105.20" y2="249.50" stroke="#34503a" stroke-width="0.7"/>
<circle cx="100.60" cy="249.50" r="1.3" fill="#1a2e1a"/>
<text x="109.30" y="251.25" font-size="5.2" fill="#222" stroke="#222" stroke-width="0.12">Gemini 1.0 Pro (LMS)</text>
<line x1="96.00" y1="257.00" x2="105.20" y2="257.00" stroke="#2626a8" stroke-width="1.3"/>
<circle cx="100.60" cy="257.00" r="1.3" fill="#2626a8"/>
<text x="109.30" y="258.75" font-size="5.2" fill="#222" stroke="#222" stroke-width="0.12">Yamagishi et al. (2016)</text>
<line x1="208.2" y1="405.30" x2="345.7" y2="405.30" stroke="#eeeeee" stroke-width="0.6"/>
<line x1="208.2" y1="389.33" x2="345.7" y2="389.33" stroke="#eeeeee" stroke-width="0.6"/>
<line x1="208.2" y1="373.36" x2="345.7" y2="373.36" stroke="#eeeeee" stroke-width="0.6"/>
<line x1="208.2" y1="357.39" x2="345.7" y2="357.39" stroke="#eeeeee" stroke-width="0.6"/>
<line x1="208.2" y1="341.42" x2="345.7" y2="341.42" stroke="#eeeeee" stroke-width="0.6"/>
<line x1="208.2" y1="325.45" x2="345.7" y2="325.45" stroke="#eeeeee" stroke-width="0.6"/>
<line x1="208.2" y1="309.48" x2="345.7" y2="309.48" stroke="#eeeeee" stroke-width="0.6"/>
<line x1="208.2" y1="293.51" x2="345.7" y2="293.51" stroke="#eeeeee" stroke-width="0.6"/>
<line x1="208.2" y1="277.54" x2="345.7" y2="277.54" stroke="#eeeeee" stroke-width="0.6"/>
<line x1="208.2" y1="261.57" x2="345.7" y2="261.57" stroke="#eeeeee" stroke-width="0.6"/>
<line x1="208.2" y1="245.60" x2="345.7" y2="245.60" stroke="#eeeeee" stroke-width="0.6"/>
<line x1="208.20" y1="232.10" x2="208.20" y2="410.90" stroke="#eeeeee" stroke-width="0.6"/>
<line x1="217.50" y1="232.10" x2="217.50" y2="410.90" stroke="#eeeeee" stroke-width="0.6"/>
<line x1="254.10" y1="232.10" x2="254.10" y2="410.90" stroke="#eeeeee" stroke-width="0.6"/>
<line x1="290.80" y1="232.10" x2="290.80" y2="410.90" stroke="#eeeeee" stroke-width="0.6"/>
<line x1="327.40" y1="232.10" x2="327.40" y2="410.90" stroke="#eeeeee" stroke-width="0.6"/>
<line x1="345.70" y1="232.10" x2="345.70" y2="410.90" stroke="#eeeeee" stroke-width="0.6"/>
<line x1="204.2" y1="237.6" x2="204.2" y2="405.30" stroke="#c6c6c6" stroke-width="1.0"/>
<line x1="208.2" y1="410.9" x2="346.0" y2="410.9" stroke="#c6c6c6" stroke-width="1.0"/>
<line x1="202.39999999999998" y1="405.30" x2="204.2" y2="405.30" stroke="#c6c6c6" stroke-width="0.7"/>
<text x="200.39999999999998" y="407.25" text-anchor="end" font-size="5.3" fill="#222" stroke="#222" stroke-width="0.12">0</text>
<line x1="202.39999999999998" y1="389.33" x2="204.2" y2="389.33" stroke="#c6c6c6" stroke-width="0.7"/>
<text x="200.39999999999998" y="391.28" text-anchor="end" font-size="5.3" fill="#222" stroke="#222" stroke-width="0.12">10</text>
<line x1="202.39999999999998" y1="373.36" x2="204.2" y2="373.36" stroke="#c6c6c6" stroke-width="0.7"/>
<text x="200.39999999999998" y="375.31" text-anchor="end" font-size="5.3" fill="#222" stroke="#222" stroke-width="0.12">20</text>
<line x1="202.39999999999998" y1="357.39" x2="204.2" y2="357.39" stroke="#c6c6c6" stroke-width="0.7"/>
<text x="200.39999999999998" y="359.34" text-anchor="end" font-size="5.3" fill="#222" stroke="#222" stroke-width="0.12">30</text>
<line x1="202.39999999999998" y1="341.42" x2="204.2" y2="341.42" stroke="#c6c6c6" stroke-width="0.7"/>
<text x="200.39999999999998" y="343.37" text-anchor="end" font-size="5.3" fill="#222" stroke="#222" stroke-width="0.12">40</text>
<line x1="202.39999999999998" y1="325.45" x2="204.2" y2="325.45" stroke="#c6c6c6" stroke-width="0.7"/>
<text x="200.39999999999998" y="327.40" text-anchor="end" font-size="5.3" fill="#222" stroke="#222" stroke-width="0.12">50</text>
<line x1="202.39999999999998" y1="309.48" x2="204.2" y2="309.48" stroke="#c6c6c6" stroke-width="0.7"/>
<text x="200.39999999999998" y="311.43" text-anchor="end" font-size="5.3" fill="#222" stroke="#222" stroke-width="0.12">60</text>
<line x1="202.39999999999998" y1="293.51" x2="204.2" y2="293.51" stroke="#c6c6c6" stroke-width="0.7"/>
<text x="200.39999999999998" y="295.46" text-anchor="end" font-size="5.3" fill="#222" stroke="#222" stroke-width="0.12">70</text>
<line x1="202.39999999999998" y1="277.54" x2="204.2" y2="277.54" stroke="#c6c6c6" stroke-width="0.7"/>
<text x="200.39999999999998" y="279.49" text-anchor="end" font-size="5.3" fill="#222" stroke="#222" stroke-width="0.12">80</text>
<line x1="202.39999999999998" y1="261.57" x2="204.2" y2="261.57" stroke="#c6c6c6" stroke-width="0.7"/>
<text x="200.39999999999998" y="263.52" text-anchor="end" font-size="5.3" fill="#222" stroke="#222" stroke-width="0.12">90</text>
<line x1="202.39999999999998" y1="245.60" x2="204.2" y2="245.60" stroke="#c6c6c6" stroke-width="0.7"/>
<text x="200.39999999999998" y="247.55" text-anchor="end" font-size="5.3" fill="#222" stroke="#222" stroke-width="0.12">100</text>
<line x1="208.20" y1="410.9" x2="208.20" y2="412.9" stroke="#c6c6c6" stroke-width="0.7"/>
<line x1="217.50" y1="410.9" x2="217.50" y2="412.9" stroke="#c6c6c6" stroke-width="0.7"/>
<line x1="254.10" y1="410.9" x2="254.10" y2="412.9" stroke="#c6c6c6" stroke-width="0.7"/>
<line x1="290.80" y1="410.9" x2="290.80" y2="412.9" stroke="#c6c6c6" stroke-width="0.7"/>
<line x1="327.40" y1="410.9" x2="327.40" y2="412.9" stroke="#c6c6c6" stroke-width="0.7"/>
<line x1="346.00" y1="410.9" x2="346.00" y2="412.9" stroke="#c6c6c6" stroke-width="0.7"/>
<text x="217.50" y="417.7" text-anchor="middle" font-size="5.2" fill="#222" stroke="#222" stroke-width="0.12">100</text>
<text x="254.10" y="417.7" text-anchor="middle" font-size="5.2" fill="#222" stroke="#222" stroke-width="0.12">300</text>
<text x="290.80" y="417.7" text-anchor="middle" font-size="5.2" fill="#222" stroke="#222" stroke-width="0.12">400</text>
<text x="327.40" y="417.7" text-anchor="middle" font-size="5.2" fill="#222" stroke="#222" stroke-width="0.12">Mean(All Stakes)</text>
<text transform="translate(185.79999999999998,321.6) rotate(-90)" text-anchor="middle" font-size="5.15" fill="#262626" stroke="#262626" stroke-width="0.05">Average Cooperation Rate (%)</text>
<text x="264.2" y="222.35" text-anchor="middle" font-family='"Liberation Serif", serif' font-size="10.4" letter-spacing="0.5" fill="#222" stroke="#222" stroke-width="0.15">(d)</text>
<line x1="217.50" y1="306.25" x2="217.50" y2="298.22" stroke="#2626a8" stroke-width="0.6"/>
<line x1="216.60" y1="306.25" x2="218.40" y2="306.25" stroke="#2626a8" stroke-width="0.6"/>
<line x1="216.60" y1="298.22" x2="218.40" y2="298.22" stroke="#2626a8" stroke-width="0.6"/>
<line x1="254.10" y1="335.64" x2="254.10" y2="327.93" stroke="#2626a8" stroke-width="0.6"/>
<line x1="253.20" y1="335.64" x2="255.00" y2="335.64" stroke="#2626a8" stroke-width="0.6"/>
<line x1="253.20" y1="327.93" x2="255.00" y2="327.93" stroke="#2626a8" stroke-width="0.6"/>
<line x1="290.80" y1="369.68" x2="290.80" y2="361.97" stroke="#2626a8" stroke-width="0.6"/>
<line x1="289.90" y1="369.68" x2="291.70" y2="369.68" stroke="#2626a8" stroke-width="0.6"/>
<line x1="289.90" y1="361.97" x2="291.70" y2="361.97" stroke="#2626a8" stroke-width="0.6"/>
<line x1="327.40" y1="335.80" x2="327.40" y2="330.98" stroke="#2626a8" stroke-width="0.6"/>
<line x1="326.50" y1="335.80" x2="328.30" y2="335.80" stroke="#2626a8" stroke-width="0.6"/>
<line x1="326.50" y1="330.98" x2="328.30" y2="330.98" stroke="#2626a8" stroke-width="0.6"/>
<polyline points="217.50,302.23 254.10,331.78 290.80,365.83" fill="none" stroke="#2626a8" stroke-width="1.15"/>
<circle cx="217.50" cy="302.23" r="1.4" fill="#2626a8"/>
<circle cx="254.10" cy="331.78" r="1.4" fill="#2626a8"/>
<circle cx="290.80" cy="365.83" r="1.4" fill="#2626a8"/>
<circle cx="327.40" cy="333.39" r="1.4" fill="#2626a8"/>
<line x1="217.50" y1="405.50" x2="217.50" y2="392.65" stroke="#86a6a6" stroke-width="0.6"/>
<line x1="216.60" y1="405.50" x2="218.40" y2="405.50" stroke="#86a6a6" stroke-width="0.6"/>
<line x1="216.60" y1="392.65" x2="218.40" y2="392.65" stroke="#86a6a6" stroke-width="0.6"/>
<line x1="254.10" y1="405.50" x2="254.10" y2="392.65" stroke="#86a6a6" stroke-width="0.6"/>
<line x1="253.20" y1="405.50" x2="255.00" y2="405.50" stroke="#86a6a6" stroke-width="0.6"/>
<line x1="253.20" y1="392.65" x2="255.00" y2="392.65" stroke="#86a6a6" stroke-width="0.6"/>
<line x1="290.80" y1="406.30" x2="290.80" y2="398.27" stroke="#86a6a6" stroke-width="0.6"/>
<line x1="289.90" y1="406.30" x2="291.70" y2="406.30" stroke="#86a6a6" stroke-width="0.6"/>
<line x1="289.90" y1="398.27" x2="291.70" y2="398.27" stroke="#86a6a6" stroke-width="0.6"/>
<line x1="327.40" y1="403.09" x2="327.40" y2="395.06" stroke="#86a6a6" stroke-width="0.6"/>
<line x1="326.50" y1="403.09" x2="328.30" y2="403.09" stroke="#86a6a6" stroke-width="0.6"/>
<line x1="326.50" y1="395.06" x2="328.30" y2="395.06" stroke="#86a6a6" stroke-width="0.6"/>
<polyline points="217.50,399.07 254.10,399.07 290.80,402.77" fill="none" stroke="#86a6a6" stroke-width="0.9" stroke-dasharray="3,1.8"/>
<circle cx="217.50" cy="399.07" r="1.2" fill="#6a8c8c"/>
<circle cx="254.10" cy="399.07" r="1.2" fill="#6a8c8c"/>
<circle cx="290.80" cy="402.77" r="1.2" fill="#6a8c8c"/>
<circle cx="327.40" cy="399.07" r="1.2" fill="#6a8c8c"/>
<line x1="217.50" y1="405.50" x2="217.50" y2="392.65" stroke="#44566e" stroke-width="0.6"/>
<line x1="216.60" y1="405.50" x2="218.40" y2="405.50" stroke="#44566e" stroke-width="0.6"/>
<line x1="216.60" y1="392.65" x2="218.40" y2="392.65" stroke="#44566e" stroke-width="0.6"/>
<line x1="254.10" y1="405.50" x2="254.10" y2="392.65" stroke="#44566e" stroke-width="0.6"/>
<line x1="253.20" y1="405.50" x2="255.00" y2="405.50" stroke="#44566e" stroke-width="0.6"/>
<line x1="253.20" y1="392.65" x2="255.00" y2="392.65" stroke="#44566e" stroke-width="0.6"/>
<line x1="290.80" y1="405.50" x2="290.80" y2="392.65" stroke="#44566e" stroke-width="0.6"/>
<line x1="289.90" y1="405.50" x2="291.70" y2="405.50" stroke="#44566e" stroke-width="0.6"/>
<line x1="289.90" y1="392.65" x2="291.70" y2="392.65" stroke="#44566e" stroke-width="0.6"/>
<line x1="327.40" y1="403.09" x2="327.40" y2="395.06" stroke="#44566e" stroke-width="0.6"/>
<line x1="326.50" y1="403.09" x2="328.30" y2="403.09" stroke="#44566e" stroke-width="0.6"/>
<line x1="326.50" y1="395.06" x2="328.30" y2="395.06" stroke="#44566e" stroke-width="0.6"/>
<polyline points="217.50,399.07 254.10,399.07 290.80,399.07" fill="none" stroke="#6686a2" stroke-width="1.0"/>
<circle cx="217.50" cy="399.07" r="1.2" fill="#1e3248"/>
<circle cx="254.10" cy="399.07" r="1.2" fill="#1e3248"/>
<circle cx="290.80" cy="399.07" r="1.2" fill="#1e3248"/>
<circle cx="327.40" cy="399.07" r="1.2" fill="#1e3248"/>
<text x="215.80" y="396.65" text-anchor="end" font-size="6.3" fill="#222" stroke="#222" stroke-width="0.15">(G3)</text>
<text x="219.70" y="404.15" text-anchor="start" font-size="6.3" fill="#86a6a6" stroke="#86a6a6" stroke-width="0.15">(G1)</text>
<text x="252.20" y="395.45" text-anchor="end" font-size="6.3" fill="#222" stroke="#222" stroke-width="0.15">(G2)</text>
<text x="256.30" y="405.05" text-anchor="start" font-size="6.3" fill="#86a6a6" stroke="#86a6a6" stroke-width="0.15">(G2)</text>
<text x="289.00" y="395.75" text-anchor="end" font-size="6.3" fill="#222" stroke="#222" stroke-width="0.15">(G1)</text>
<text x="293.40" y="404.75" text-anchor="start" font-size="6.3" fill="#86a6a6" stroke="#86a6a6" stroke-width="0.15">(G3)</text>
<rect x="274.20" y="236.40" width="78" height="22" fill="#fff"/>
<line x1="277.20" y1="241.40" x2="286.40" y2="241.40" stroke="#2626a8" stroke-width="1.3"/>
<circle cx="281.80" cy="241.40" r="1.3" fill="#2626a8"/>
<text x="290.50" y="243.15" font-size="5.2" fill="#222" stroke="#222" stroke-width="0.12">Yamagishi et al. (3016)</text>
<line x1="277.20" y1="248.90" x2="286.40" y2="248.90" stroke="#6686a2" stroke-width="0.7"/>
<circle cx="281.80" cy="248.90" r="1.3" fill="#1e3248"/>
<text x="290.50" y="250.65" font-size="5.2" fill="#222" stroke="#222" stroke-width="0.12">DeepSeek-R1 (LMS)</text>
<line x1="277.20" y1="256.40" x2="286.40" y2="256.40" stroke="#86a6a6" stroke-width="0.7" stroke-dasharray="1.6,1.4"/>
<circle cx="281.80" cy="256.40" r="1.3" fill="#6a8c8c"/>
<text x="290.50" y="258.15" font-size="5.2" fill="#222" stroke="#222" stroke-width="0.12">DeepSeek-R1 (SML)</text>
</svg>
</body></html>
